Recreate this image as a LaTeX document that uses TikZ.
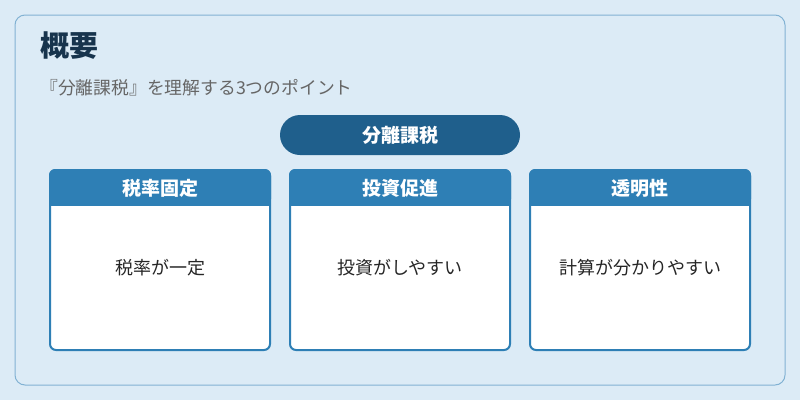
\documentclass[tikz,border=0pt]{standalone}
\usepackage{fontspec}
\setmainfont{Noto Sans CJK JP}
\begin{document}
\begin{tikzpicture}[x=1pt,y=-1pt,
  card/.style={fill=white,draw=hdrc,line width=2pt,rounded corners=6pt}]
\definecolor{bgc}{HTML}{DCEBF6}
\definecolor{hdrc}{HTML}{2E7FB5}
\definecolor{pillc}{HTML}{1F5F8C}
\definecolor{titc}{HTML}{17344D}
\useasboundingbox (0,0) rectangle (800,400);
\fill[bgc] (0,0) rectangle (800,400);
\draw[draw=hdrc!60,line width=1pt,rounded corners=10pt] (15,15) rectangle (785,385);
\node[anchor=west,inner sep=0pt,font=\bfseries\fontsize{29}{32}\selectfont,text=titc] (t) at (40,46) {概要};
\node[anchor=west,inner sep=0pt,font=\fontsize{17.8}{20}\selectfont,text=black!60] (s) at (40,88) {『分離課税』を理解する3つのポイント};
\node[fill=pillc,rounded corners=20pt,minimum width=240pt,minimum height=40pt,text=white,font=\bfseries\fontsize{19}{22}\selectfont] (p) at (400,135) {分離課税};
\foreach \x/\h/\b [count=\i] in {50/税率固定/税率が一定,290/投資促進/投資がしやすい,530/透明性/計算が分かりやすい}{
  \draw[card] (\x,170) rectangle (\x+220,350);
  \fill[hdrc,rounded corners=6pt] (\x-1,169) rectangle (\x+221,205);
  \fill[hdrc] (\x-1,195) rectangle (\x+221,206);
  \node[text=white,font=\bfseries\fontsize{19}{22}\selectfont] (h\i) at (\x+110,188) {\h};
  \node[font=\fontsize{18}{21}\selectfont,text=black!85] (b\i) at (\x+110,268) {\b};
}
\end{tikzpicture}
\end{document}
